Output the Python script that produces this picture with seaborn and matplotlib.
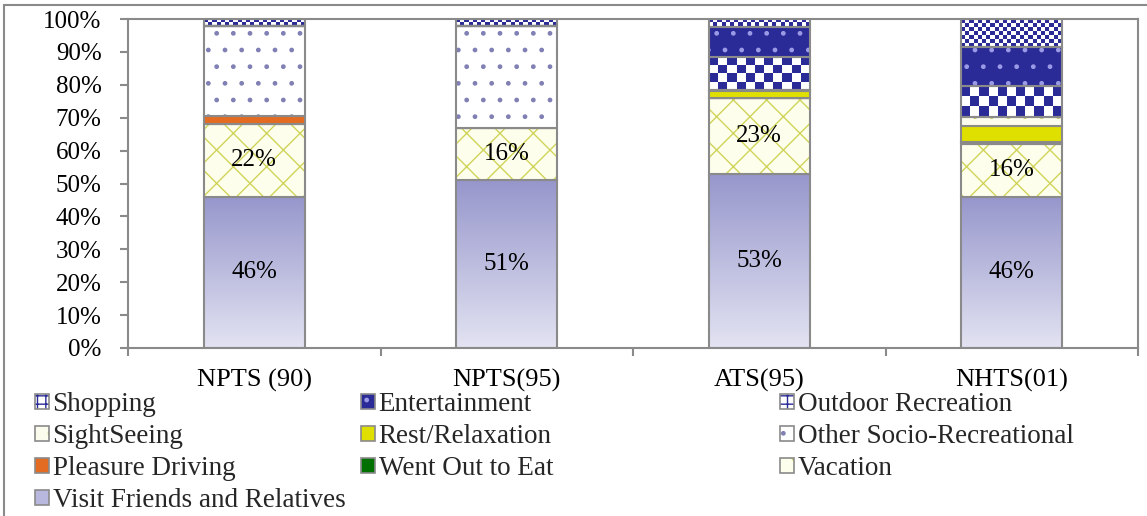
import numpy as np
import matplotlib
matplotlib.use("Agg")
import matplotlib.pyplot as plt
from matplotlib.patches import Patch, Rectangle
from matplotlib.colors import to_rgba
import seaborn as sns

# ---------------- data ----------------
categories = ["NPTS (90)", "NPTS(95)", "ATS(95)", "NHTS(01)"]
visit = [46, 51, 53, 46]
vacation = [22, 16, 23, 16]
went_out_to_eat = [0, 0, 0, 0.6]
pleasure_driving = [2.5, 0, 0, 0]
other_socio = [27.5, 31, 0, 0]
rest_relaxation = [0, 0, 2, 5]
sightseeing = [0, 0, 0.5, 2.5]
outdoor = [0, 0, 10, 9.5]
entertainment = [0, 0, 9, 12]
shopping = [2, 2, 2.5, 8.4]
y_ticks = [0, 10, 20, 30, 40, 50, 60, 70, 80, 90, 100]
y_tick_labels = [f"{t}%" for t in y_ticks]

series_names = ["Visit Friends and Relatives", "Vacation", "Went Out to Eat",
                "Pleasure Driving", "Other Socio-Recreational", "Rest/Relaxation",
                "SightSeeing", "Outdoor Recreation", "Entertainment", "Shopping"]
series_values = [visit, vacation, went_out_to_eat, pleasure_driving, other_socio,
                 rest_relaxation, sightseeing, outdoor, entertainment, shopping]
labelled = {"Visit Friends and Relatives", "Vacation"}

# ---------------- styles ----------------
EDGE = "#8a8a8a"
NAVY = "#2b2b98"
styles = {
    "Visit Friends and Relatives": dict(kind="gradient", face="#b4b4dc",
                                        top=(0.59, 0.59, 0.80), bottom=(0.89, 0.89, 0.95)),
    "Vacation": dict(kind="hatch", face="#fefeec", hatch="x", hc="#cfd45a"),
    "Went Out to Eat": dict(kind="solid", face="#007000"),
    "Pleasure Driving": dict(kind="solid", face="#e46c22"),
    "Other Socio-Recreational": dict(kind="hatch", face="#ffffff", hatch=".", hc="#8080b4"),
    "Rest/Relaxation": dict(kind="solid", face="#e0e000"),
    "SightSeeing": dict(kind="hatch", face="#fbfbee", hatch=".", hc="#c8c870"),
    "Outdoor Recreation": dict(kind="checker", face=NAVY, cell=9.0),
    "Entertainment": dict(kind="hatch", face=NAVY, hatch=".", hc="#9a9ae6"),
    "Shopping": dict(kind="checker", face=NAVY, cell=4.2),
}

FONT = "Liberation Serif"
sns.set_theme(style="white")
plt.rcParams["font.family"] = [FONT, "DejaVu Serif"]
plt.rcParams["hatch.linewidth"] = 1.0

W, H = 1147, 516
fig = plt.figure(figsize=(W / 100, H / 100), dpi=100)
ax = fig.add_axes([128 / W, 1 - 348 / H, (1138 - 128) / W, (348 - 19) / H])
ax.set_xlim(-0.5, 3.5)
ax.set_ylim(0, 100)

bottom = np.zeros(len(categories))
layer_patches = {}
for name, vals in zip(series_names, series_values):
    st = styles[name]
    n0 = len(ax.patches)
    sns.barplot(x=categories, y=vals, order=categories, bottom=bottom.copy(),
                color=st["face"], saturation=1, width=0.4, errorbar=None,
                edgecolor=EDGE, linewidth=1.5, hatch=st.get("hatch"), ax=ax, zorder=2)
    patches = ax.patches[n0:]
    layer_patches[name] = patches
    for p in patches:
        p.set_facecolor(st["face"])
        p.set_edgecolor(EDGE)
        if st["kind"] == "hatch":
            p._hatch_color = to_rgba(st["hc"])
    if name in labelled:
        ax.bar_label(ax.containers[-1], labels=[f"{v:.0f}%" for v in vals],
                     label_type="center", fontsize=18, color="black", zorder=5)
    bottom += np.asarray(vals, dtype=float)

ax.set_xlim(-0.5, 3.5)
ax.set_ylim(0, 100)

def patch_px(p):
    x, y, w, h = p.get_x(), p.get_y(), p.get_width(), p.get_height()
    (x0, y0) = ax.transData.transform((x, y))
    (x1, y1) = ax.transData.transform((x + w, y + h))
    return x, y, w, h, abs(x1 - x0), abs(y1 - y0)

# gradient and checkerboard fills, clipped to the seaborn bars
for name, patches in layer_patches.items():
    st = styles[name]
    for p in patches:
        x, y, w, h, pw, ph = patch_px(p)
        if h <= 0:
            continue
        if st["kind"] == "gradient":
            t = np.linspace(0, 1, 128)[:, None, None]
            top = np.array(st["top"])[None, None, :]
            bot = np.array(st["bottom"])[None, None, :]
            img = top * (1 - t) + bot * t
        elif st["kind"] == "checker":
            nx = max(1, int(round(pw / st["cell"])))
            ny = max(1, int(round(ph / st["cell"])))
            chk = np.add.outer(np.arange(ny), np.arange(nx)) % 2
            c1 = np.array(to_rgba(st["face"])[:3])
            c2 = np.array([1.0, 1.0, 1.0])
            img = np.where(chk[..., None] == 0, c1, c2)
        else:
            continue
        im = ax.imshow(img, extent=(x, x + w, y, y + h), origin="upper",
                       interpolation="nearest" if st["kind"] == "checker" else "bilinear",
                       aspect="auto", zorder=1.9)
        im.set_clip_path(p)
        p.set_facecolor("none")

ax.set_xlim(-0.5, 3.5)
ax.set_ylim(0, 100)
ax.set_aspect("auto")

# axes styling
for s in ax.spines.values():
    s.set_visible(True)
    s.set_color(EDGE)
    s.set_linewidth(1.5)
ax.set_yticks(y_ticks)
ax.set_yticklabels(y_tick_labels)
ax.set_xticks(range(len(categories)))
ax.set_xticklabels(categories)
ax.set_xticks([i - 0.5 for i in range(len(categories) + 1)], minor=True)
ax.tick_params(axis="y", which="major", left=True, length=6, width=1.5, color=EDGE,
               pad=13, labelsize=18, labelcolor="black", direction="out")
ax.tick_params(axis="x", which="major", bottom=False, length=0, pad=15, labelsize=19,
               labelcolor="black")
ax.tick_params(axis="x", which="minor", bottom=True, length=6, width=1.5, color=EDGE,
               direction="out")
ax.set_xlabel("")
ax.set_ylabel("")
ax.grid(False)
for lab in ax.get_xticklabels() + ax.get_yticklabels():
    lab.set_fontfamily([FONT, "DejaVu Serif"])

# outer chart frame
fig.add_artist(Rectangle((4 / W, -0.2), 1.3, 1 - 5 / H + 0.2, transform=fig.transFigure,
                         fill=False, edgecolor=EDGE, linewidth=1.5))

# legend (three columns, Excel style order)
def handle(name):
    st = styles[name]
    if st["kind"] == "gradient":
        h = Patch(facecolor="#b8b8de", edgecolor=EDGE, linewidth=1.2)
    elif st["kind"] == "checker":
        h = Patch(facecolor="white", edgecolor=EDGE, linewidth=1.2, hatch="++")
        h._hatch_color = to_rgba(NAVY)
    elif st["kind"] == "hatch":
        h = Patch(facecolor=st["face"], edgecolor=EDGE, linewidth=1.2, hatch=st["hatch"])
        h._hatch_color = to_rgba(st["hc"])
    else:
        h = Patch(facecolor=st["face"], edgecolor=EDGE, linewidth=1.2)
    return h

columns = [
    (35, ["Shopping", "SightSeeing", "Pleasure Driving", "Visit Friends and Relatives"]),
    (361, ["Entertainment", "Rest/Relaxation", "Went Out to Eat"]),
    (780, ["Outdoor Recreation", "Other Socio-Recreational", "Vacation"]),
]
for xpx, names in columns:
    leg = fig.legend([handle(n) for n in names], names, loc="upper left",
                     bbox_to_anchor=(xpx / W, 1 - 392 / H), frameon=False,
                     borderpad=0, borderaxespad=0, handlelength=0.5, handleheight=0.5,
                     handletextpad=0.15, labelspacing=0.26,
                     prop={"family": [FONT, "DejaVu Serif"], "size": 19.5})

fig.savefig("out.png", dpi=100)
